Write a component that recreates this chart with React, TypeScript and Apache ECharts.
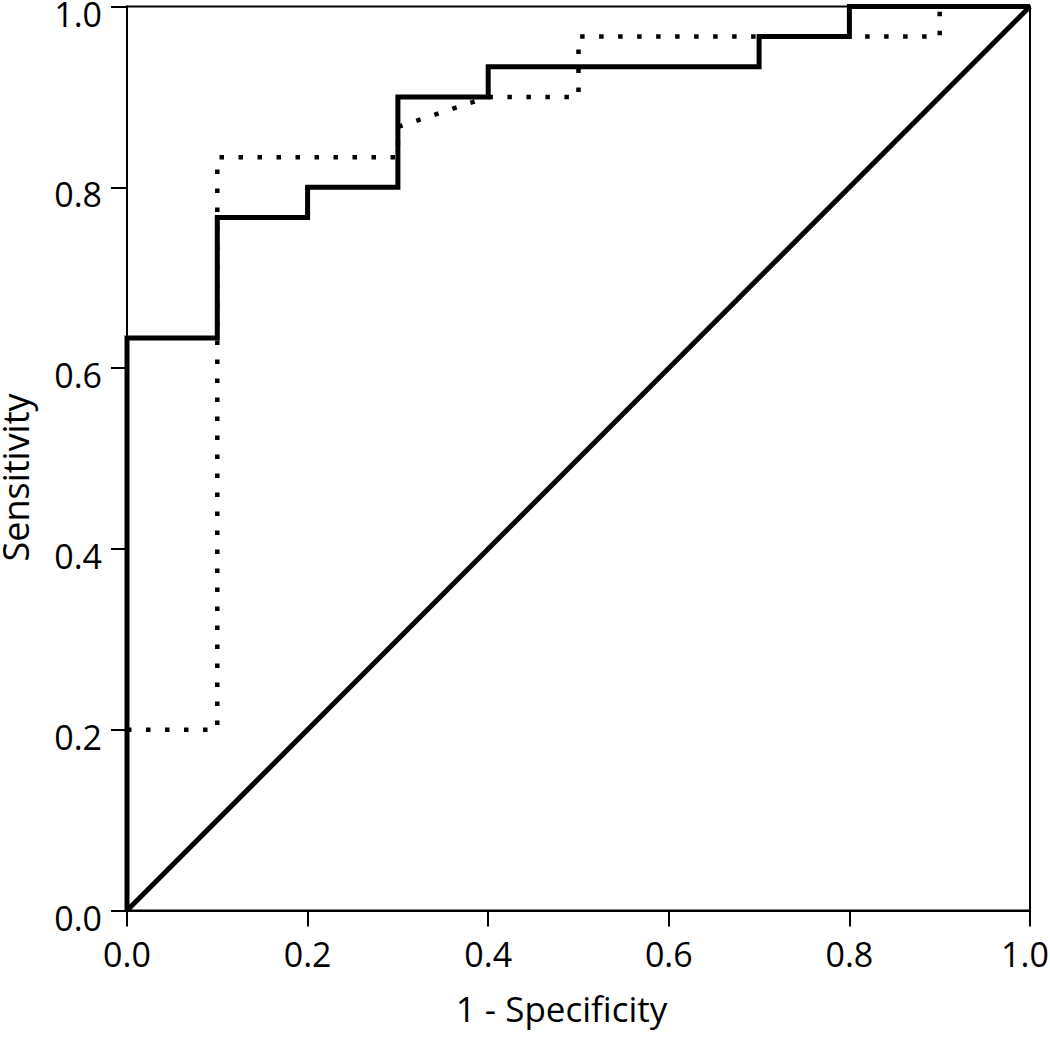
import React, { useEffect, useRef } from "react";
import * as echarts from "echarts";

// ROC curve vertices (1 - Specificity, Sensitivity)
const solidFpr = [0, 0, 0.1, 0.1, 0.2, 0.2, 0.3, 0.3, 0.4, 0.4, 0.7, 0.7, 0.8, 0.8, 1.0];
const solidTpr = [0, 0.6333, 0.6333, 0.7667, 0.7667, 0.8, 0.8, 0.9, 0.9, 0.9333, 0.9333, 0.9667, 0.9667, 1.0, 1.0];

const dottedFpr = [0, 0.1, 0.1, 0.3, 0.3, 0.4, 0.5, 0.5, 0.9, 0.9, 1.0];
const dottedTpr = [0.2, 0.2, 0.8333, 0.8333, 0.8667, 0.9, 0.9, 0.9667, 0.9667, 1.0, 1.0];

const refFpr = [0, 1];
const refTpr = [0, 1];

const xTitle = "1 - Specificity";
const yTitle = "Sensitivity";

const FONT = "Open Sans";

function pairs(xs: number[], ys: number[]) {
  return xs.map((x, i) => [x, ys[i]]);
}

export default function App() {
  const ref = useRef<HTMLDivElement>(null);
  useEffect(() => {
    document.body.style.margin = "0";
    if (!ref.current) return;
    const chart = echarts.init(ref.current, null, { renderer: "svg" });
    const axisCommon = {
      type: "value" as const,
      min: 0,
      max: 1,
      interval: 0.2,
      splitLine: { show: false },
      axisLine: { show: true, lineStyle: { color: "#000", width: 2 } },
      axisTick: { show: true, length: 16, inside: false, lineStyle: { color: "#000", width: 2 } },
    };
    chart.setOption({
      animation: false,
      backgroundColor: "#fff",
      grid: {
        left: 127,
        right: 20,
        top: 6.5,
        bottom: 129.5,
        containLabel: false,
        outerBoundsMode: "none",
        show: true,
        borderColor: "#000",
        borderWidth: 2,
        backgroundColor: "transparent",
      },
      xAxis: {
        ...axisCommon,
        axisLabel: {
          color: "#000",
          fontFamily: FONT,
          fontSize: 34,
          margin: 26,
          formatter: (v: number) => (v >= 1 ? "{e|" + v.toFixed(1) + "}" : v.toFixed(1)),
          rich: {
            e: {
              color: "#000",
              fontFamily: FONT,
              fontSize: 34,
              padding: [0, 10, 0, 0],
            },
          },
        },
        name: xTitle,
        nameLocation: "middle",
        nameGap: 80,
        nameTextStyle: {
          color: "#000",
          fontFamily: FONT,
          fontSize: 35,
          padding: [0, 34, 0, 0],
        },
      },
      yAxis: {
        ...axisCommon,
        axisLabel: {
          color: "#000",
          fontFamily: FONT,
          fontSize: 34,
          margin: 25,
          lineHeight: 26,
          verticalAlign: "top",
          padding: [-6, 0, 0, 0],
          formatter: (v: number) => v.toFixed(1),
        },
        name: yTitle,
        nameLocation: "middle",
        nameGap: 94,
        nameTextStyle: {
          color: "#000",
          fontFamily: FONT,
          fontSize: 36,
          lineHeight: 36,
          padding: [0, 38, 0, 0],
        },
      },
      series: [
        {
          type: "line",
          data: pairs(refFpr, refTpr),
          showSymbol: false,
          clip: false,
          lineStyle: { color: "#000", width: 5 },
        },
        {
          type: "line",
          data: pairs(dottedFpr, dottedTpr),
          showSymbol: false,
          clip: false,
          lineStyle: { color: "#000", width: 4.5, type: [4.5, 14.5], cap: "butt" },
        },
        {
          type: "line",
          data: pairs(solidFpr, solidTpr),
          showSymbol: false,
          clip: false,
          lineStyle: { color: "#000", width: 5, cap: "butt", join: "miter" },
        },
      ],
    });
    return () => chart.dispose();
  }, []);
  return <div ref={ref} style={{ width: 1050, height: 1040 }} />;
}
